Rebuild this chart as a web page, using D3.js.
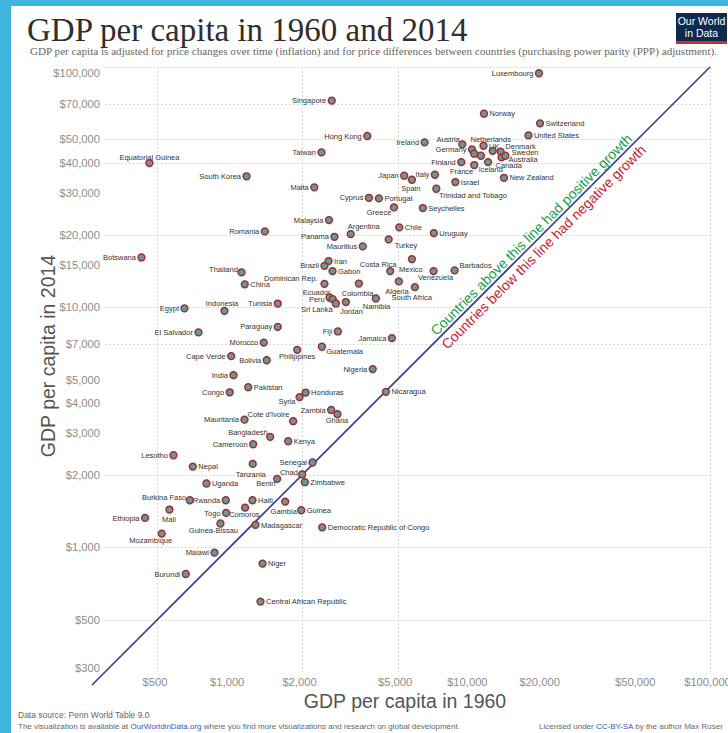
<!DOCTYPE html>
<html>
<head>
<meta charset="utf-8">
<script src="https://cdn.jsdelivr.net/npm/d3@7"></script>
<style>
  body { margin: 0; background: #fff; }
  svg { display: block; }
</style>
</head>
<body>
<svg id="chart" width="728" height="733"></svg>
<script>
// GDP per capita (PPP, 2011 int-$), 1960 vs 2014
const countries = [
  "Luxembourg","Singapore","Norway","Switzerland","United States","Hong Kong","Ireland","Austria",
  "Netherlands","Germany","Belgium","Iceland","UK","Denmark","Australia","Sweden","Finland","France",
  "Canada","Taiwan","New Zealand","Japan","Spain","Italy","Israel","Trinidad and Tobago","Malta",
  "Cyprus","Portugal","Greece","Seychelles","Malaysia","Argentina","Chile","Panama","Uruguay",
  "Mauritius","Turkey","Equatorial Guinea","South Korea","Romania","Botswana","Thailand","China",
  "Tunisia","Egypt","Indonesia","El Salvador","Paraguay","Morocco","Cape Verde","Bolivia","India",
  "Pakistan","Congo","Mauritania","Bangladesh","Iran","Brazil","Gabon","Costa Rica","Mexico",
  "Venezuela","Barbados","Dominican Rep.","Colombia","Algeria","South Africa","Ecuador","Peru",
  "Sri Lanka","Jordan","Namibia","Fiji","Jamaica","Guatemala","Philippines","Nigeria","Nicaragua",
  "Honduras","Syria","Zambia","Ghana","Cote d'Ivoire","Kenya","Cameroon","Tanzania","Senegal","Chad",
  "Zimbabwe","Benin","Gambia","Guinea","Haiti","Comoros","Togo","Guinea-Bissau","Madagascar",
  "Democratic Republic of Congo","Niger","Central African Republic","Malawi","Lesotho","Nepal",
  "Uganda","Burkina Faso","Rwanda","Mali","Ethiopia","Mozambique","Burundi"
];
const gdp1960 = [
  19400,2660,11450,19600,17540,3740,6480,9300,
  11400,10200,10430,11120,12450,13430,13550,14060,9210,10430,
  11910,2410,13870,5330,5735,7150,8700,7250,2250,
  3800,4180,4830,6370,2590,3190,5080,2730,7080,
  3580,4590,463,1175,1400,429,1120,1155,
  1585,648,951,741,1585,1386,1014,1426,1037,
  1194,1000,1152,1474,2580,2480,2680,4660,5735,
  7060,8640,2480,3450,5060,5900,2605,2685,
  2767,3046,4060,2820,4735,2420,1910,3940,4470,
  2070,1953,2645,2810,1837,1752,1252,1247,2212,2004,
  2055,1576,1702,1985,1244,1159,966,915,1280,
  2428,1370,1343,864,583,702,
  800,682,963,561,444,521,656
];
const gdp2014 = [
  94200,72400,63900,58250,51900,51600,48560,47640,
  46990,45400,43550,42700,44780,44450,42060,42700,40190,39060,
  40190,44130,34560,35260,33930,35590,33190,31120,31540,
  28530,28360,26020,25860,23040,20140,21480,19630,20340,
  17900,19140,39810,35060,20670,16100,13960,12440,
  10350,9880,9650,7850,8280,7120,6250,6010,5210,
  4640,4420,3400,2884,15550,14860,14130,14130,15850,
  14130,14220,12500,12540,12800,12120,10970,10800,
  10360,10500,10870,7920,7430,6840,6640,5520,4440,
  4410,4220,3730,3580,3350,2765,2686,2224,2254,2010,
  1866,1927,1550,1426,1570,1463,1390,1256,1239,
  1211,855,594,950,2417,2168,
  1843,1570,1570,1436,1325,1140,774
];

const xTickValues = [500, 1000, 2000, 5000, 10000, 20000, 50000, 100000];
const yTickValues = [300, 500, 1000, 2000, 3000, 4000, 5000, 7000, 10000, 15000, 20000, 30000, 40000, 50000, 70000, 100000];
const xGridValues = [500, 2000, 5000, 100000];
const yGridValues = [500, 1000, 2000, 7000, 10000, 20000, 40000, 50000, 70000, 100000];
const axisExtent = [267, 100000];

// Label placement: "l" = left of the marker, otherwise [dx, dy, anchor]; default is right.
const L = "l";
const labelPos = {
  "Luxembourg": L, "Singapore": L, "Hong Kong": L, "Ireland": L, "Taiwan": L,
  "Austria": [-2.5, -5, "end"], "Netherlands": [-13, -6.7, "start"], "Germany": L,
  "UK": [-3.7, -4.7, "start"], "Denmark": [4.7, -4.8, "start"], "Sweden": [6, -3, "start"],
  "Australia": [7, 1.7, "start"], "Canada": [7.5, 3, "start"], "Iceland": [-2.3, 13.6, "start"],
  "Finland": L, "France": [-1, 6, "end"], "Japan": L, "Spain": [-1, 9, "middle"], "Italy": L,
  "Trinidad and Tobago": [2.6, 7, "start"], "Malta": L, "Cyprus": L, "Greece": [-2.6, 5, "end"],
  "Malaysia": L, "Argentina": [-3, -7.3, "start"], "Panama": L, "Mauritius": L,
  "Turkey": [6, 5.7, "start"], "Equatorial Guinea": [0, -6, "middle"], "South Korea": L,
  "Romania": L, "Botswana": L, "Thailand": [-3.7, -3, "end"], "Tunisia": L, "Egypt": L,
  "Indonesia": [-2.5, -7.4, "middle"], "El Salvador": L, "Paraguay": L, "Morocco": L,
  "Cape Verde": L, "Bolivia": L, "India": L, "Congo": L, "Mauritania": L,
  "Bangladesh": [-2.4, -4, "end"], "Brazil": L, "Costa Rica": [6.3, -7, "end"],
  "Mexico": [-1, 10, "middle"], "Venezuela": [2, 6.7, "middle"], "Barbados": [5, -4.6, "start"],
  "Dominican Rep.": [-7, -5, "end"], "Colombia": [-1.3, 10, "middle"], "Algeria": [-1.8, 10.4, "middle"],
  "South Africa": [-3, 10.3, "middle"], "Ecuador": [1, -5, "end"], "Peru": [-8, 0, "end"],
  "Sri Lanka": [-3.3, 5.7, "end"], "Jordan": [5.5, 9, "middle"], "Namibia": [0.7, 8.4, "middle"],
  "Fiji": L, "Jamaica": L, "Guatemala": [4.4, 4.3, "start"], "Philippines": [0, 7, "middle"],
  "Nigeria": L, "Syria": [-4, 4, "end"], "Zambia": L, "Ghana": [-0.5, 6.3, "middle"],
  "Cote d'Ivoire": [-3.7, -7, "end"], "Cameroon": L, "Tanzania": [-2, 10, "middle"],
  "Senegal": L, "Chad": [-4.4, -1.6, "end"], "Benin": [-1.7, 4.6, "end"],
  "Gambia": [-1.5, 9.4, "middle"], "Comoros": [-0.7, 7, "middle"], "Togo": L,
  "Guinea-Bissau": [-7, 6.7, "middle"], "Malawi": L, "Lesotho": L,
  "Burkina Faso": [-3.6, -2.7, "end"], "Rwanda": L, "Mali": [-0.5, 9.7, "middle"],
  "Ethiopia": L, "Mozambique": [-11, 6.4, "middle"], "Burundi": L
};
const unlabeled = new Set(["Belgium"]);

const data = countries.map((name, i) => ({ name, x: gdp1960[i], y: gdp2014[i] }));

const svg = d3.select("#chart");
const W = 728, H = 733;

// frame: blue slide border behind the white chart panel
svg.append("rect").attr("width", W).attr("height", H).attr("fill", "#3db5de");
svg.append("rect").attr("x", 11).attr("y", 6).attr("width", W - 11).attr("height", H - 6).attr("fill", "#fff");

const x = d3.scaleLog().domain(axisExtent).range([92, 710]);
const y = d3.scaleLog().domain(axisExtent).range([685, 67]);
const money = d3.format("$,");

// title block
svg.append("text").attr("x", 27).attr("y", 41)
  .attr("font-family", "'Liberation Serif', 'DejaVu Serif', serif").attr("font-size", 33)
  .attr("fill", "#2e2e2e").text("GDP per capita in 1960 and 2014");
svg.append("text").attr("x", 30).attr("y", 55)
  .attr("font-family", "'Liberation Serif', serif").attr("font-size", 10.5)
  .attr("fill", "#666").attr("textLength", 687).attr("lengthAdjust", "spacingAndGlyphs")
  .text("GDP per capita is adjusted for price changes over time (inflation) and for price differences between countries (purchasing power parity (PPP) adjustment).");

// logo
const logo = svg.append("g");
logo.append("rect").attr("x", 676).attr("y", 13).attr("width", 51).attr("height", 31).attr("fill", "#0f2a4e");
logo.append("rect").attr("x", 676).attr("y", 41).attr("width", 51).attr("height", 3).attr("fill", "#ce2b2b");
logo.append("text").attr("x", 701.5).attr("y", 25).attr("text-anchor", "middle")
  .attr("font-family", "'Liberation Sans', Arial, sans-serif").attr("font-size", 10.5).attr("fill", "#fff").text("Our World");
logo.append("text").attr("x", 701.5).attr("y", 37).attr("text-anchor", "middle")
  .attr("font-family", "'Liberation Sans', Arial, sans-serif").attr("font-size", 10.5).attr("fill", "#fff").text("in Data");

// gridlines
const grid = svg.append("g").attr("stroke", "#d9d9d9").attr("stroke-dasharray", "2,2").attr("stroke-width", 1);
grid.selectAll(".gy").data(yGridValues).join("line")
  .attr("x1", 105).attr("x2", 712)
  .attr("y1", d => Math.round(y(d)) + 0.5).attr("y2", d => Math.round(y(d)) + 0.5);
grid.selectAll(".gx").data(xGridValues).join("line")
  .attr("y1", 67).attr("y2", 672)
  .attr("x1", d => Math.round(x(d)) + 0.5).attr("x2", d => Math.round(x(d)) + 0.5);

// axes (labels only, no domain line)
const tickFont = "'Liberation Sans', Arial, sans-serif";
const yAxis = svg.append("g").attr("transform", "translate(100,0)")
  .call(d3.axisLeft(y).tickValues(yTickValues).tickFormat(money).tickSize(0).tickPadding(0));
yAxis.select(".domain").remove();
// the end labels are pulled inward so they stay clear of the frame and the x labels
yAxis.selectAll("text").attr("font-family", tickFont).attr("font-size", 11.2).attr("fill", "#8c8c8c")
  .attr("transform", d => d === 100000 ? "translate(0,6)" : d === 300 ? "translate(0,-5)" : null);

const xAxis = svg.append("g").attr("transform", "translate(-3,678)")
  .call(d3.axisBottom(x).tickValues(xTickValues).tickFormat(money).tickSize(0).tickPadding(0));
xAxis.select(".domain").remove();
xAxis.selectAll("text").attr("font-family", tickFont).attr("font-size", 11.2).attr("fill", "#8c8c8c");

// axis titles
svg.append("text").attr("x", 405).attr("y", 708).attr("text-anchor", "middle")
  .attr("font-family", tickFont).attr("font-size", 19.5).attr("fill", "#555").text("GDP per capita in 1960");
svg.append("text").attr("transform", "translate(55,356) rotate(-90)").attr("text-anchor", "middle")
  .attr("font-family", tickFont).attr("font-size", 19.5).attr("fill", "#555").text("GDP per capita in 2014");

// equal-growth diagonal
svg.append("line")
  .attr("x1", x(axisExtent[0])).attr("y1", y(axisExtent[0]))
  .attr("x2", x(axisExtent[1])).attr("y2", y(axisExtent[1]))
  .attr("stroke", "#3a3990").attr("stroke-width", 1.6);

const mid = 19000;
const diag = svg.append("g").attr("transform", `translate(${x(mid)},${y(mid)}) rotate(-45)`)
  .attr("font-family", tickFont).attr("font-size", 14).attr("text-anchor", "middle");
diag.append("text").attr("y", -3).attr("fill", "#12a04d").text("Countries above this line had positive growth");
diag.append("text").attr("y", 14.5).attr("fill", "#cc2030").text("Countries below this line had negative growth");

// country labels
const labels = svg.append("g").attr("font-family", tickFont).attr("font-size", 7.5).attr("fill", "#333");
labels.selectAll("text").data(data.filter(d => !unlabeled.has(d.name))).join("text")
  .each(function (d) {
    let p = labelPos[d.name];
    if (p === L) p = [-5.5, 0, "end"];
    if (!p) p = [5.5, 0, "start"];
    d3.select(this)
      .attr("x", x(d.x) + p[0]).attr("y", y(d.y) + p[1]).attr("dy", "0.35em")
      .attr("text-anchor", p[2]).text(d.name);
  });

// country markers
svg.append("g").selectAll("circle").data(data).join("circle")
  .attr("cx", d => x(d.x)).attr("cy", d => y(d.y)).attr("r", 3.4)
  .attr("fill", "#5c9f9a").attr("stroke", "#a8282c").attr("stroke-width", 1.5);

// footer
const foot = svg.append("g").attr("font-family", tickFont).attr("fill", "#666");
foot.append("text").attr("x", 18).attr("y", 718).attr("font-size", 8.5).text("Data source: Penn World Table 9.0");
const f2 = foot.append("text").attr("x", 18).attr("y", 729).attr("font-size", 8);
f2.append("tspan").text("The visualization is available at ");
f2.append("tspan").attr("fill", "#3b54c4").text("OurWorldinData.org");
f2.append("tspan").text(" where you find more visualizations and research on global development.");
const f3 = foot.append("text").attr("x", 539).attr("y", 729).attr("font-size", 8);
f3.append("tspan").text("Licensed under ");
f3.append("tspan").attr("fill", "#3b54c4").text("CC-BY-SA");
f3.append("tspan").text(" by the author Max Roser");
</script>
</body>
</html>
